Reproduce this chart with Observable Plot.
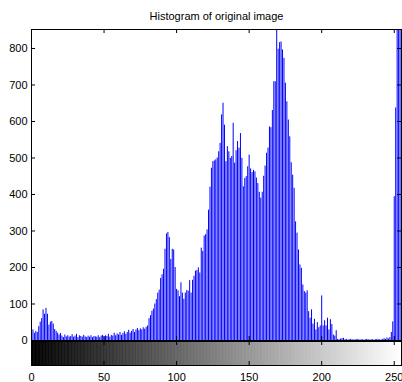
<!DOCTYPE html>
<html><head><meta charset="utf-8">
<script src="https://cdn.jsdelivr.net/npm/d3@7"></script>
<script src="https://cdn.jsdelivr.net/npm/@observablehq/plot@0.6"></script>
<style>body{margin:0;background:#fff;} #chart{position:relative;width:402px;height:382px;} #chart svg{display:block;overflow:visible;}</style>
</head><body><div id="chart"></div>
<script>
const title = "Histogram of original image";
// pixel counts for gray levels 0..255
const counts = [
  72, 29, 20, 25, 22, 38, 50, 60, 84, 72, 88, 72, 42, 50, 52, 45, 30, 25, 20, 15, 19,
  12, 8, 15, 10, 13, 9, 11, 16, 9, 12, 17, 8, 13, 11, 9, 14, 10, 8, 12, 9,
  13, 8, 11, 10, 9, 13, 8, 12, 14, 10, 13, 11, 17, 9, 14, 12, 20, 13, 18, 15,
  22, 14, 19, 24, 17, 22, 28, 20, 25, 30, 22, 29, 33, 27, 32, 29, 35, 31, 36, 40,
  60, 68, 80, 86, 100, 112, 130, 138, 170, 180,
  195, 250, 292, 296, 282, 222, 250, 248, 200, 140, 136, 120, 158, 130, 113, 130, 137, 135, 164, 130, 165, 176,
  190, 192, 199, 185, 253, 244, 286, 290, 303, 357, 420, 472, 490, 492, 495, 500, 517, 540, 618, 650,
  590, 490, 531, 517, 499, 504, 595, 486, 520, 545, 527, 567, 499, 421, 444, 449, 476, 508,
  470, 460, 466, 462, 445, 430, 406, 390, 406, 450,
  478, 513, 527, 585, 583, 630, 709, 709, 860, 798,
  816, 818, 796, 773, 705, 654, 604, 558, 487, 453,
  417, 325, 294, 248, 207, 198, 152, 134, 130, 136,
  79, 61, 84, 45, 58, 29, 49, 35, 40, 122,
  40, 54, 40, 61, 29, 57, 44, 15, 12, 27,
  3, 2, 4, 5, 6, 2, 3, 1, 2, 3, 2, 1, 2, 2, 3, 1, 2, 2, 1, 2, 3, 2, 1, 2, 2, 1, 2, 3, 2, 2, 1, 3, 5, 3, 7,
  4, 8, 22, 51, 394, 637, 1500, 1800, 2100, 2400
];
const levels = d3.range(256);
const xTicks = [0, 50, 100, 150, 200, 250];
const yTicks = [0, 100, 200, 300, 400, 500, 600, 700, 800];
const yMax = 852;

const data = levels.map(i => ({level: i, count: counts[i]}));
const W = 402, L = 31, R = 1;
const baseStyle = {fontFamily: "'Liberation Sans', Arial, sans-serif", fontSize: "11px", color: "black", overflow: "visible"};

const mainTop = 29, mainH = 341;
const frameH = mainH - mainTop - 1;

const cbH = 41, cbFrame = 24;
const cbar = Plot.plot({
  width: W, height: cbH, marginLeft: L, marginRight: R, marginTop: 0, marginBottom: cbH - cbFrame,
  style: {...baseStyle, background: "transparent"},
  x: {domain: [0, 255], axis: null},
  marks: [
    Plot.rect(levels, {x1: d => d - 0.5, x2: d => d + 0.5, fill: d => `rgb(${d},${d},${d})`, stroke: d => `rgb(${d},${d},${d})`, strokeWidth: 0.6, clip: true}),
    Plot.tickX(xTicks, {x: d => d, insetBottom: cbFrame - 4, stroke: "black"}),
    Plot.tickX(xTicks, {x: d => d, insetTop: cbFrame - 4, stroke: "black"}),
    Plot.frame({stroke: "black"}),
    Plot.axisX({ticks: xTicks, tickSize: 0, tickPadding: 8, anchor: "bottom", label: null})
  ]
});

const main = Plot.plot({
  width: W, height: mainH, marginLeft: L, marginRight: R, marginTop: mainTop, marginBottom: 1,
  style: {...baseStyle, background: "white"},
  x: {domain: [0, 255], axis: null},
  y: {domain: [0, yMax], axis: null},
  marks: [
    Plot.ruleX(data, {x: "level", y: "count", stroke: "#0000ff", strokeWidth: 1, clip: true}),
    Plot.axisY({ticks: yTicks, tickSize: 0, tickPadding: 4, anchor: "left", label: null}),
    Plot.tickY(yTicks, {y: d => d, insetRight: W - L - R - 4, stroke: "black"}),
    Plot.tickY(yTicks, {y: d => d, insetLeft: W - L - R - 4, stroke: "black"}),
    Plot.tickX(xTicks, {x: d => d, insetBottom: frameH - 4, stroke: "black"}),
    Plot.tickX(xTicks, {x: d => d, insetTop: frameH - 4, stroke: "black"}),
    Plot.frame({stroke: "black"}),
    Plot.text([title], {frameAnchor: "top", dy: -13, lineAnchor: "middle", fontSize: 11, fill: "black"})
  ]
});
main.style.position = "relative";
main.style.zIndex = "2";
cbar.style.position = "relative";
cbar.style.zIndex = "1";

document.getElementById("chart").append(main, cbar);
</script>
</body></html>
